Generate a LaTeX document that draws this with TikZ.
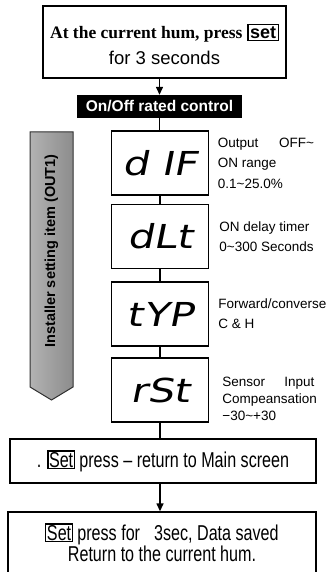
\documentclass[tikz,border=0pt]{standalone}
\usepackage{fontspec}
\setmainfont{Liberation Sans}
\newfontfamily\headfont{Liberation Serif}
\newfontfamily\narrowfont[FakeStretch=0.75]{Liberation Sans}
\newfontfamily\segfont[FakeSlant=0.2,FakeStretch=1.25]{DejaVu Sans}
\usetikzlibrary{positioning, arrows.meta, calc}
\definecolor{cArrowEdge}{HTML}{303030}
\newcommand{\keyframe}[2][1pt]{{\setlength{\fboxsep}{#1}\setlength{\fboxrule}{1.2pt}\fbox{#2}}}

\begin{document}
\begin{tikzpicture}[x=1pt, y=-1pt,
  flowbox/.style={draw, line width=1.4pt, align=center, inner sep=0pt},
  segbox/.style={draw, line width=1.4pt, minimum width=97pt, minimum height=64pt,
                 font=\segfont\fontsize{33}{33}\selectfont},
  note/.style={align=left, inner sep=0pt},
  link/.style={line width=1.4pt},
  flow/.style={line width=1.4pt, -{Triangle[length=8pt, width=7pt]}}]
\useasboundingbox (0,0) rectangle (326,572);

\node[flowbox, minimum width=243pt, minimum height=72pt, font=\fontsize{18}{26}\selectfont]
  (start) at (164.5,42)
  {\rule{0pt}{19pt}{\headfont\bfseries\fontsize{17.5}{26}\selectfont At the current hum, press}
   \smash{\keyframe[1.5pt]{\bfseries set}}\\
   {\fontsize{18.5}{26}\selectfont for 3 seconds}};
\node[fill=black, text=white, minimum width=165pt, minimum height=23pt, inner sep=0pt,
      font=\bfseries\fontsize{15.5}{15.5}\selectfont]
  (mode) at (159.5,106.5) {On/Off rated control};
\draw[flow] (mode.north |- start.south) -- (mode.north);

\shadedraw[left color=black!30, middle color=white, right color=black!45,
           draw=cArrowEdge, line width=1pt]
  (30,132) -- (73,132) -- (73,387) -- (51.5,400) -- (30,387) -- cycle;
\node[rotate=90, font=\bfseries\fontsize{14.5}{14.5}\selectfont]
  (install) at (51.5,251) {Installer setting item (OUT1)};

\foreach \name/\code/\ymid in {dif/d IF/163, dlt/dLt/236.5, typ/tYP/314, rst/rSt/390}{
  \node[segbox] (\name) at (160,\ymid) {\code};
}
\draw[link] (mode.south) -- (mode.south |- dif.north);
\foreach \a/\b in {dif/dlt, dlt/typ, typ/rst}{
  \draw[link] (\a.south) -- (\b.north);
}

\node[note, right=8.5pt of dif, font=\fontsize{13.5}{20.5}\selectfont] (difnote)
  {\makebox[96pt][s]{Output\hfill OFF\textasciitilde}\\ON range\\0.1\textasciitilde 25.0\%};
\node[note, right=10pt of dlt, font=\fontsize{13.5}{20}\selectfont] (dltnote)
  {ON delay timer\\0\textasciitilde 300 Seconds};
\node[note, right=9pt of typ, font=\fontsize{13.5}{20}\selectfont] (typnote)
  {Forward/converse\\C \& H};
\node[note, right=13pt of rst, yshift=-9pt, font=\fontsize{13.5}{17}\selectfont] (rstnote)
  {\makebox[92pt][s]{Sensor\hfill Input}\\Compeansation\\−30\textasciitilde +30};

\node[flowbox, minimum width=306pt, minimum height=44pt,
      font=\narrowfont\fontsize{21.5}{20}\selectfont]
  (back) at (163,461) {. \keyframe[0.5pt]{Set} press – return to Main screen};
\draw[link] (rst.south) -- (rst.south |- back.north);

\node[flowbox, minimum width=308pt, minimum height=62pt,
      font=\narrowfont\fontsize{21.5}{20}\selectfont]
  (save) at (162,543)
  {\smash{\keyframe[0.5pt]{Set}} press for\hspace{14pt}3sec, Data saved\\Return to the current hum.};
\draw[flow] (rst.south |- back.south) -- (rst.south |- save.north);
\end{tikzpicture}
\end{document}
